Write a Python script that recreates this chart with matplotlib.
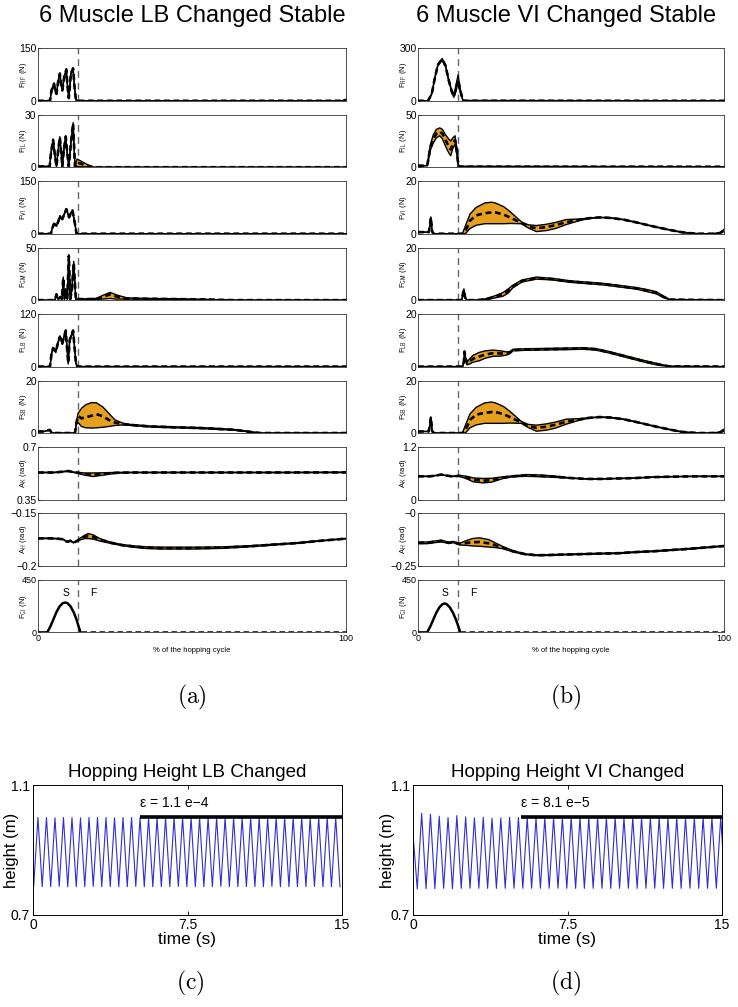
import numpy as np
import matplotlib.pyplot as plt

plt.rcParams['font.family'] = ['Liberation Sans', 'DejaVu Sans']
plt.rcParams['mathtext.fontset'] = 'cm'

ORANGE = '#E6A01E'
TAKEOFF = 13.0   # % of cycle, stance -> flight

# ---------------- left column: LB changed ----------------
lb_rf_x = [0, 3.9, 4.4, 5.2, 5.6, 6.0, 6.6, 7.1, 7.5, 7.9, 8.5, 9.2, 9.6, 10.0, 10.7, 11.4, 11.9, 12.3, 13.0, 98.5, 99.5, 100]
lb_rf_mean = [0, 0, 30, 48, 28, 20, 58, 77, 48, 30, 68, 89, 40, 8, 78, 92, 35, 3, 0, 0, 2, 2]
lb_rf_w = [0, 0, 2, 3, 3, 2, 3, 3, 3, 2, 3, 3, 3, 2, 3, 3, 3, 1, 0, 0, 0, 0]

lb_il_x = [0, 3.8, 4.2, 4.9, 5.4, 6.0, 6.5, 7.1, 7.5, 7.9, 8.4, 9.0, 9.5, 10.0, 10.7, 11.4, 12.0, 12.7, 14.0, 15.5, 17.0, 18.0, 100]
lb_il_mean = [0.5, 0.5, 8, 15.6, 8, 0.4, 9, 17, 9, 0.4, 10, 17.5, 8, 0.4, 14, 25, 0.5, 2.8, 2.0, 1.0, 0.4, 0, 0]
lb_il_hi = [0.5, 0.5, 8.5, 16.1, 8.5, 0.4, 9.5, 17.5, 9.5, 0.4, 10.5, 18, 8.5, 0.4, 14.5, 25.5, 0.5, 4.7, 3.5, 2.0, 0.8, 0, 0]
lb_il_lo = [0.5, 0.5, 7.5, 15.1, 7.5, 0.4, 8.5, 16.5, 8.5, 0.4, 9.5, 17, 7.5, 0.4, 13.5, 24.5, 0.5, 0.4, 0.3, 0.2, 0.1, 0, 0]

lb_vi_x = [0, 4.2, 4.6, 5.2, 6.0, 6.6, 7.1, 7.9, 8.5, 9.2, 10.1, 10.6, 11.2, 12.0, 12.5, 100]
lb_vi_mean = [0, 0, 15, 28, 23, 35, 50, 42, 55, 70, 47, 58, 66, 28, 0, 0]
lb_vi_w = [0, 0, 2, 2, 2, 2, 2, 2, 2, 2, 2, 2, 2, 2, 0, 0]

lb_gm_x = [0, 5.5, 6.0, 6.5, 7.3, 7.8, 8.2, 8.6, 9.0, 9.5, 10.0, 10.5, 11.0, 11.6, 12.3, 13.0, 16, 19, 21, 23.4, 25.5, 28.8, 35, 45, 55, 63.6, 100]
lb_gm_mean = [0, 0, 5.5, 1, 3, 1, 21, 1, 10, 1, 42, 1, 10, 35.5, 0, 1, 1, 1.2, 3, 5.5, 3.5, 1.5, 1.3, 1.0, 0.6, 0, 0]
lb_gm_hi = [0, 0, 6, 1.3, 3.5, 1.3, 22, 1.3, 11, 1.3, 43.5, 1.3, 11, 37, 0, 1.3, 1.3, 1.7, 4.5, 7.4, 5.0, 2.2, 1.7, 1.3, 0.8, 0, 0]
lb_gm_lo = [0, 0, 5, 0.7, 2.5, 0.7, 20, 0.7, 9, 0.7, 40.5, 0.7, 9, 34, 0, 0.7, 0.7, 0.7, 1.0, 1.6, 1.0, 1.0, 0.9, 0.7, 0.4, 0, 0]

lb_lb_x = [0, 3.9, 4.4, 4.9, 5.8, 6.5, 7.1, 7.9, 8.5, 9.0, 9.8, 10.3, 11.4, 12.3, 12.8, 100]
lb_lb_mean = [0, 0, 30, 42, 34, 55, 68, 53, 70, 82, 8, 61, 82, 8, 0, 0]
lb_lb_w = [0, 0, 2, 2, 2, 2, 2, 2, 2, 2, 2, 2, 2, 2, 0, 0]

lb_sb_x = [0, 2, 3.8, 4.5, 12.0, 12.5, 13.0, 14.1, 15.5, 17.4, 19, 21, 23, 25, 27.7, 30, 36.4, 44, 52.7, 58, 63.6, 68, 72.3, 100]
lb_sb_mean = [0.6, 0.6, 1.2, 0, 0, 4, 6.5, 5.6, 6.0, 6.6, 7.2, 6.4, 5.0, 4.0, 3.4, 3.1, 2.5, 2.2, 1.9, 1.6, 1.25, 0.6, 0, 0]
lb_sb_hi = [0.6, 0.6, 1.2, 0, 0, 4.5, 7.5, 9.4, 10.8, 11.6, 11.5, 10, 7.5, 5, 3.7, 3.3, 2.7, 2.4, 2.1, 1.8, 1.4, 0.7, 0, 0]
lb_sb_lo = [0.6, 0.6, 1.2, 0, 0, 3.5, 4, 2.5, 2, 1.9, 2.0, 2.2, 2.5, 2.9, 3.1, 2.9, 2.3, 2.0, 1.7, 1.4, 1.1, 0.5, 0, 0]

lb_ak_x = [0, 5, 8, 9.8, 11.5, 13, 15, 17.9, 21, 25.5, 30, 40, 60, 80, 100]
lb_ak_mean = [0.530, 0.530, 0.535, 0.540, 0.532, 0.528, 0.520, 0.515, 0.520, 0.528, 0.530, 0.530, 0.530, 0.530, 0.531]
lb_ak_w = [0.002, 0.002, 0.002, 0.002, 0.002, 0.003, 0.007, 0.012, 0.008, 0.003, 0.002, 0.002, 0.002, 0.002, 0.002]

lb_ah_x = [0, 4, 6, 8, 9.5, 10.5, 11.5, 12.5, 13.6, 15, 16.3, 18, 20, 23.4, 27, 31, 35.3, 40, 45, 50, 55, 60, 65, 70, 75, 80, 85, 90, 95, 100]
lb_ah_mean = [-0.1737, -0.1737, -0.1740, -0.1745, -0.1770, -0.1760, -0.1778, -0.1765, -0.1745, -0.1725,
              -0.1715, -0.1725, -0.1750, -0.1778, -0.1800, -0.1815, -0.1826, -0.1830, -0.1830, -0.1830,
              -0.1828, -0.1825, -0.1818, -0.1810, -0.1800, -0.1790, -0.1780, -0.1765, -0.1752, -0.1740]
lb_ah_w = [0.0003, 0.0003, 0.0003, 0.0003, 0.0003, 0.0003, 0.0003, 0.0003, 0.0008, 0.0015,
           0.0024, 0.0020, 0.0012, 0.0006, 0.0005, 0.0007, 0.0008, 0.0009, 0.0009, 0.0009,
           0.0008, 0.0007, 0.0006, 0.0005, 0.0005, 0.0004, 0.0004, 0.0003, 0.0003, 0.0003]

lb_gi_x = [0, 3.0, 4.0, 5.0, 6.0, 7.0, 8.0, 8.9, 9.6, 10.6, 11.6, 12.5, 13.2, 13.8, 100]
lb_gi_f = [0, 0, 50, 112, 175, 222, 250, 256, 250, 222, 172, 110, 50, 0, 0]

# ---------------- right column: VI changed ----------------
vi_rf_x = [0, 3.3, 4.5, 5.5, 6.5, 7.9, 9.0, 10.0, 11.0, 11.7, 12.4, 13.1, 13.8, 14.7, 100]
vi_rf_mean = [0, 0, 40, 130, 205, 238, 200, 120, 55, 25, 70, 122, 60, 0, 0]
vi_rf_hi = [0, 0, 43, 134, 209, 242, 204, 124, 59, 30, 88, 148, 70, 2, 0]
vi_rf_lo = [0, 0, 37, 126, 201, 234, 196, 116, 51, 20, 55, 105, 50, 0, 0]

vi_il_x = [0, 3.0, 3.4, 4.0, 5.0, 6.0, 7.1, 8.0, 9.0, 10.0, 10.7, 11.4, 12.1, 12.7, 13.2, 14, 100]
vi_il_mean = [1.5, 1.5, 8, 18, 27, 32, 34, 32, 26, 20, 17, 22, 26, 15, 1, 0.5, 0.5]
vi_il_hi = [1.5, 1.5, 10, 21, 31, 36, 37.5, 36, 31, 27, 25, 28, 30, 18, 2, 1, 0.5]
vi_il_lo = [1.5, 1.5, 6, 16, 23, 28, 30, 27, 20, 14, 11, 18, 22, 12, 0, 0, 0.5]

vi_vi_x = [0, 3.5, 3.9, 4.2, 4.6, 5, 14.5, 15.5, 17, 19, 21.8, 24, 25.3, 28, 30, 33.8, 36, 38.7, 42, 45,
           48.5, 52.8, 56, 59.4, 63, 67, 71, 74.6, 78, 82, 86, 88.8, 92, 96, 98.6, 100]
vi_vi_mean = [0.6, 0.6, 3, 6.2, 1, 0, 0, 1, 5, 7, 7.8, 8.1, 8.1, 7.3, 6.2, 4.1, 2.7, 2.1, 2.5, 3.3,
              4.4, 5.3, 5.9, 6.2, 6.0, 5.4, 4.4, 3.4, 2.5, 1.5, 0.6, 0.2, 0, 0, 0.2, 1.2]
vi_vi_hi = [0.6, 0.6, 3.2, 6.4, 1.2, 0, 0, 3, 7.5, 10, 11.7, 12, 11.7, 10.3, 8.5, 4.5, 3.4, 3.1, 3.6, 4.3,
            5.4, 5.6, 6.0, 6.3, 6.1, 5.5, 4.5, 3.5, 2.6, 1.6, 0.7, 0.3, 0, 0, 0.4, 1.6]
vi_vi_lo = [0.6, 0.6, 2.8, 6.0, 0.8, 0, 0, 0, 2.0, 3.2, 3.8, 3.8, 3.8, 3.8, 3.9, 3.8, 2.2, 0.8, 1.2, 2.0,
            3.5, 5.0, 5.8, 6.1, 5.9, 5.3, 4.3, 3.3, 2.4, 1.4, 0.5, 0.1, 0, 0, 0.1, 0.8]

vi_gm_x = [0, 14.3, 14.7, 15.0, 15.4, 16, 19, 22, 25, 27.8, 29.5, 31, 34, 38.7, 44, 49.6, 55, 60.5, 66, 71.4, 75, 77.9, 80, 82.2, 100]
vi_gm_mean = [0, 0, 2.5, 3.9, 1, 0, 0, 0.3, 1.2, 2.2, 3.5, 5.2, 7.3, 8.4, 8.0, 7.1, 6.6, 6.1, 5.3, 4.5, 3.6, 2.8, 1.4, 0.2, 0]
vi_gm_w = [0, 0, 0.3, 0.4, 0.3, 0, 0, 0.2, 0.4, 0.7, 0.8, 0.5, 0.4, 0.4, 0.3, 0.3, 0.3, 0.3, 0.3, 0.3, 0.4, 0.4, 0.3, 0.1, 0]

vi_lb_x = [0, 14.6, 15.0, 15.2, 15.5, 16.0, 16.9, 18, 20, 22, 24.5, 27, 29, 30, 31, 35, 40, 45, 50, 54, 58, 62, 66, 70, 74, 77, 80, 82.2, 100]
vi_lb_mean = [0, 0, 2, 5.7, 3.5, 1.2, 2.0, 3, 3.8, 4.6, 5.1, 5.0, 5.0, 5.3, 6.3, 6.5, 6.6, 6.7, 6.8, 6.9, 6.6, 5.6, 4.4, 3.2, 2.0, 1.2, 0.5, 0.1, 0]
vi_lb_w = [0, 0, 0.2, 0.2, 0.3, 0.5, 1.0, 1.3, 1.6, 1.4, 1.2, 1.0, 0.6, 0.4, 0.3, 0.3, 0.3, 0.3, 0.3, 0.3, 0.3, 0.3, 0.3, 0.3, 0.3, 0.3, 0.2, 0.1, 0]

vi_sb_x = [0, 3.5, 3.9, 4.2, 4.6, 5, 14.5, 15.5, 17, 19, 21.8, 24, 25.3, 28, 30, 33.8, 36, 38.7, 42, 45,
           48.5, 52.8, 56, 59.4, 63, 67, 71, 74.6, 78, 82, 86, 88.8, 92, 96, 98.6, 100]
vi_sb_mean = [0.6, 0.6, 3, 6.0, 1, 0, 0, 1, 5, 7, 7.7, 8.0, 8.0, 7.2, 6.1, 4.0, 2.6, 2.0, 2.4, 3.2,
              4.3, 5.2, 5.8, 6.1, 5.9, 5.3, 4.3, 3.3, 2.4, 1.4, 0.5, 0.2, 0, 0, 0.2, 1.1]
vi_sb_hi = [0.6, 0.6, 3.2, 6.2, 1.2, 0, 0, 3, 7.3, 9.8, 11.5, 11.8, 11.5, 10.1, 8.3, 4.4, 3.3, 3.0, 3.5, 4.2,
            5.3, 5.5, 5.9, 6.2, 6.0, 5.4, 4.4, 3.4, 2.5, 1.5, 0.6, 0.3, 0, 0, 0.4, 1.5]
vi_sb_lo = [0.6, 0.6, 2.8, 5.8, 0.8, 0, 0, 0, 2.0, 3.1, 3.7, 3.7, 3.7, 3.7, 3.8, 3.7, 2.1, 0.7, 1.1, 1.9,
            3.4, 4.9, 5.7, 6.0, 5.8, 5.2, 4.2, 3.2, 2.3, 1.3, 0.4, 0.1, 0, 0, 0.1, 0.7]

vi_ak_x = [0, 4, 6, 7.6, 9, 11, 13.6, 16, 18, 21.2, 24, 27.8, 31, 35.4, 40, 45, 50, 55, 60, 65, 71, 76, 82, 90, 100]
vi_ak_mean = [0.53, 0.53, 0.55, 0.57, 0.55, 0.53, 0.54, 0.50, 0.45, 0.43, 0.44, 0.50, 0.53, 0.55, 0.54,
              0.52, 0.49, 0.47, 0.47, 0.48, 0.49, 0.51, 0.52, 0.53, 0.53]
vi_ak_w = [0.005, 0.005, 0.005, 0.005, 0.005, 0.005, 0.01, 0.03, 0.045, 0.05, 0.045, 0.02, 0.01, 0.02, 0.02,
           0.015, 0.005, 0.005, 0.005, 0.005, 0.005, 0.005, 0.005, 0.005, 0.005]

vi_ah_x = [0, 3, 5, 7.6, 10, 11.5, 13.6, 16, 18, 20, 23, 25, 27.8, 31, 35, 38.7, 43, 49.6, 55, 60, 66, 71, 77, 83, 89, 95, 100]
vi_ah_mean = [-0.140, -0.140, -0.136, -0.131, -0.140, -0.136, -0.146, -0.140, -0.137, -0.136, -0.142, -0.150,
              -0.163, -0.180, -0.194, -0.199, -0.198, -0.195, -0.193, -0.191, -0.189, -0.184, -0.180,
              -0.174, -0.168, -0.161, -0.155]
vi_ah_w = [0.004, 0.004, 0.004, 0.004, 0.003, 0.003, 0.004, 0.012, 0.018, 0.020, 0.018, 0.012, 0.005, 0.003,
           0.002, 0.002, 0.002, 0.002, 0.002, 0.002, 0.002, 0.002, 0.002, 0.002, 0.002, 0.002, 0.002]

vi_gi_x = [0, 3.0, 4.0, 5.0, 6.0, 7.0, 8.0, 8.7, 9.4, 10.4, 11.4, 12.4, 13.2, 13.8, 100]
vi_gi_f = [0, 0, 50, 110, 170, 215, 242, 248, 242, 215, 170, 110, 50, 0, 0]

# panel axes: limits, tick labels, label
row_names = ['RF', 'IL', 'VI', 'GM', 'LB', 'SB', 'K', 'H', 'Gi']
lb_ylims = [(0, 150), (0, 30), (0, 150), (0, 50), (0, 120), (0, 20), (0.35, 0.7), (-0.2, -0.15), (0, 450)]
lb_yticklabels = [('0', '150'), ('0', '30'), ('0', '150'), ('0', '50'), ('0', '120'), ('0', '20'),
                  ('0.35', '0.7'), ('\u22120.2', '\u22120.15'), ('0', '450')]
vi_ylims = [(0, 300), (0, 50), (0, 20), (0, 20), (0, 20), (0, 20), (0, 1.2), (-0.25, 0), (0, 450)]
vi_yticklabels = [('0', '300'), ('0', '50'), ('0', '20'), ('0', '20'), ('0', '20'), ('0', '20'),
                  ('0', '1.2'), ('\u22120.25', '\u22120'), ('0', '450')]

# ---------------- hopping height ----------------
hop_lb_period = 0.413
hop_lb_first_peak = 0.24
hop_lb_peaks = [1.000, 1.000, 0.999, 1.000, 1.000, 0.999, 1.000, 1.000, 1.000, 0.999, 1.000, 1.000,
                1.000, 1.000, 0.999, 1.000, 1.000, 1.000, 0.999, 1.000, 1.000, 1.000, 1.000, 0.999,
                1.000, 1.000, 1.000, 0.999, 1.000, 1.000, 1.000, 1.000, 0.999, 1.000, 1.000, 1.000]
hop_lb_troughs = [0.788, 0.787, 0.787, 0.788, 0.787, 0.787, 0.787, 0.788, 0.787, 0.787, 0.787, 0.787,
                  0.788, 0.787, 0.787, 0.787, 0.787, 0.788, 0.787, 0.787, 0.787, 0.787, 0.788, 0.787,
                  0.787, 0.787, 0.787, 0.787, 0.788, 0.787, 0.787, 0.787, 0.787, 0.788, 0.787, 0.787]
eps_lb_start = 5.2
eps_lb_level = 1.002

hop_vi_period = 0.427
hop_vi_first_peak = 0.42
hop_vi_peaks = [1.013, 1.010, 1.004, 1.000, 1.006, 1.002, 0.999, 1.001, 0.998, 0.999, 1.001, 1.000,
                1.000, 0.999, 1.000, 1.000, 1.000, 1.000, 0.999, 1.000, 1.000, 1.000, 1.000, 1.000,
                1.000, 1.000, 1.000, 1.000, 1.000, 1.000, 1.000, 1.000, 1.000, 1.000, 1.000]
hop_vi_troughs = [0.780, 0.781, 0.781, 0.782, 0.781, 0.782, 0.782, 0.782, 0.782, 0.782, 0.782, 0.782,
                  0.782, 0.782, 0.782, 0.782, 0.782, 0.782, 0.782, 0.782, 0.782, 0.782, 0.782, 0.782,
                  0.782, 0.782, 0.782, 0.782, 0.782, 0.782, 0.782, 0.782, 0.782, 0.782, 0.782]
hop_vi_start = 0.95
eps_vi_start = 5.25
eps_vi_level = 1.002


def band_panel(ax, x, mean, lo, hi, ylim, ytl, name):
    ax.fill_between(x, lo, hi, facecolor=ORANGE, edgecolor='none', zorder=1)
    ax.plot(x, lo, color='k', lw=1.0, zorder=2)
    ax.plot(x, hi, color='k', lw=1.0, zorder=2)
    ax.plot(x, mean, color='k', lw=1.9, ls=(0, (2.2, 1.4)), zorder=3)
    style_panel(ax, ylim, ytl, name)


def style_panel(ax, ylim, ytl, name):
    ax.axvline(TAKEOFF, color='0.4', lw=1.0, ls=(0, (5, 3.5)), zorder=0)
    ax.set_xlim(0, 100)
    ax.set_ylim(*ylim)
    ax.set_yticks(ylim)
    ax.set_yticklabels(ytl)
    ax.set_xticks([0, 100])
    ax.tick_params(labelbottom=False, labelsize=7.5, length=2, width=0.5, direction='in', pad=1)
    for s in ax.spines.values():
        s.set_linewidth(0.6)
        s.set_color('0.2')
    unit = '(rad)' if name in ('K', 'H') else '(N)'
    sym = 'A' if name in ('K', 'H') else 'F'
    ax.set_ylabel(sym + r'$_{\mathsf{' + name.upper() + '}}$ ' + unit, fontsize=5.5)
    ax.yaxis.set_label_coords(-0.03, 0.5)


def gi_panel(ax, x, f, ylim, ytl, s_x, f_x):
    x = np.asarray(x)
    f = np.asarray(f)
    st = x <= 14
    ax.plot(x[st], f[st], color='k', lw=1.8, zorder=3)
    ax.plot(x[x >= 13.8], f[x >= 13.8], color='k', lw=1.8, ls=(0, (2.2, 1.4)), zorder=3)
    style_panel(ax, ylim, ytl, 'Gi')
    ax.tick_params(labelbottom=True, labelsize=6.5)
    ax.set_xticklabels(['0', '100'])
    ax.set_xlabel('% of the hopping cycle', fontsize=5.5, labelpad=3)
    ax.text(s_x, 340, 'S', fontsize=7.5, ha='center', va='center')
    ax.text(f_x, 340, 'F', fontsize=7.5, ha='center', va='center')


def hop_series(first_peak, period, peaks, troughs, start_val=None):
    tp = first_peak + period * np.arange(len(peaks))
    tt = tp - period / 2
    t = np.empty(2 * len(peaks))
    h = np.empty(2 * len(peaks))
    t[0::2] = tt
    t[1::2] = tp
    h[0::2] = troughs
    h[1::2] = peaks
    t = np.append(t, tp[-1] + period / 2)
    h = np.append(h, troughs[-1])
    if start_val is not None:
        t = np.insert(t, 0, 0.0)
        h = np.insert(h, 0, start_val)
    return t, h


fig = plt.figure(figsize=(7.38, 10.07), dpi=100)
W, H = 738.0, 1007.0

lb_data = [
    (lb_rf_x, lb_rf_mean, np.subtract(lb_rf_mean, lb_rf_w), np.add(lb_rf_mean, lb_rf_w)),
    (lb_il_x, lb_il_mean, lb_il_lo, lb_il_hi),
    (lb_vi_x, lb_vi_mean, np.subtract(lb_vi_mean, lb_vi_w), np.add(lb_vi_mean, lb_vi_w)),
    (lb_gm_x, lb_gm_mean, lb_gm_lo, lb_gm_hi),
    (lb_lb_x, lb_lb_mean, np.subtract(lb_lb_mean, lb_lb_w), np.add(lb_lb_mean, lb_lb_w)),
    (lb_sb_x, lb_sb_mean, lb_sb_lo, lb_sb_hi),
    (lb_ak_x, lb_ak_mean, np.subtract(lb_ak_mean, lb_ak_w), np.add(lb_ak_mean, lb_ak_w)),
    (lb_ah_x, lb_ah_mean, np.subtract(lb_ah_mean, lb_ah_w), np.add(lb_ah_mean, lb_ah_w)),
]
vi_data = [
    (vi_rf_x, vi_rf_mean, vi_rf_lo, vi_rf_hi),
    (vi_il_x, vi_il_mean, vi_il_lo, vi_il_hi),
    (vi_vi_x, vi_vi_mean, vi_vi_lo, vi_vi_hi),
    (vi_gm_x, vi_gm_mean, np.subtract(vi_gm_mean, vi_gm_w), np.add(vi_gm_mean, vi_gm_w)),
    (vi_lb_x, vi_lb_mean, np.subtract(vi_lb_mean, vi_lb_w), np.add(vi_lb_mean, vi_lb_w)),
    (vi_sb_x, vi_sb_mean, vi_sb_lo, vi_sb_hi),
    (vi_ak_x, vi_ak_mean, np.subtract(vi_ak_mean, vi_ak_w), np.add(vi_ak_mean, vi_ak_w)),
    (vi_ah_x, vi_ah_mean, np.subtract(vi_ah_mean, vi_ah_w), np.add(vi_ah_mean, vi_ah_w)),
]

cols = [(38, 308, lb_data, lb_ylims, lb_yticklabels, lb_gi_x, lb_gi_f, 9.0, 18.0),
        (418, 306, vi_data, vi_ylims, vi_yticklabels, vi_gi_x, vi_gi_f, 8.8, 18.0)]
for left, width, data, ylims, ytls, gx, gf, sx, fx in cols:
    for i in range(9):
        top = 48.3 + 66.45 * i
        ax = fig.add_axes([left / W, 1 - (top + 52.5) / H, width / W, 52.5 / H])
        if i < 8:
            x, m, lo, hi = data[i]
            band_panel(ax, x, m, lo, hi, ylims[i], ytls[i], row_names[i])
        else:
            gi_panel(ax, gx, gf, ylims[i], ytls[i], sx, fx)

fig.text(192 / W, 1 - 16 / H, '6 Muscle LB Changed Stable', fontsize=17, ha='center', va='center')
fig.text(566 / W, 1 - 16 / H, '6 Muscle VI Changed Stable', fontsize=17, ha='center', va='center')
fig.text(192 / W, 1 - 697 / H, r'$\mathrm{(a)}$', fontsize=17, ha='center', va='center')
fig.text(566 / W, 1 - 697 / H, r'$\mathrm{(b)}$', fontsize=17, ha='center', va='center')

hops = [
    (33, 'Hopping Height LB Changed', hop_lb_first_peak, hop_lb_period, hop_lb_peaks, hop_lb_troughs, None,
     eps_lb_start, eps_lb_level, '\u03b5 = 1.1 e\u22124', r'$\mathrm{(c)}$', 190, -0.045),
    (413, 'Hopping Height VI Changed', hop_vi_first_peak, hop_vi_period, hop_vi_peaks, hop_vi_troughs, hop_vi_start,
     eps_vi_start, eps_vi_level, '\u03b5 = 8.1 e\u22125', r'$\mathrm{(d)}$', 566, -0.058),
]
for left, title, fp, per, pk, tr, sv, es, el, etxt, lab, lx, ylx in hops:
    ax = fig.add_axes([left / W, 1 - 915 / H, 309 / W, 130 / H])
    t, h = hop_series(fp, per, pk, tr, sv)
    ax.plot(t, h, color='#2E2ED2', lw=0.8)
    ax.hlines(el, es, 15, color='k', lw=2.6)
    ax.text(es, 1.045, etxt, fontsize=10, ha='left', va='center')
    ax.set_xlim(0, 15)
    ax.set_ylim(0.7, 1.1)
    ax.set_xticks([0, 7.5, 15])
    ax.set_xticklabels(['0', '7.5', '15'])
    ax.set_yticks([0.7, 1.1])
    ax.set_yticklabels(['0.7', '1.1'])
    ax.tick_params(labelsize=10, direction='in', length=3, width=0.6, top=True, right=True, pad=2)
    for s in ax.spines.values():
        s.set_linewidth(0.7)
    ax.set_title(title, fontsize=13.5, pad=6)
    ax.set_xlabel('time (s)', fontsize=12.5, labelpad=0)
    ax.set_ylabel('height (m)', fontsize=12)
    ax.yaxis.set_label_coords(ylx, 0.5)
    fig.text(lx / W, 1 - 983 / H, lab, fontsize=17, ha='center', va='center')

fig.savefig('out.png', dpi=100)
